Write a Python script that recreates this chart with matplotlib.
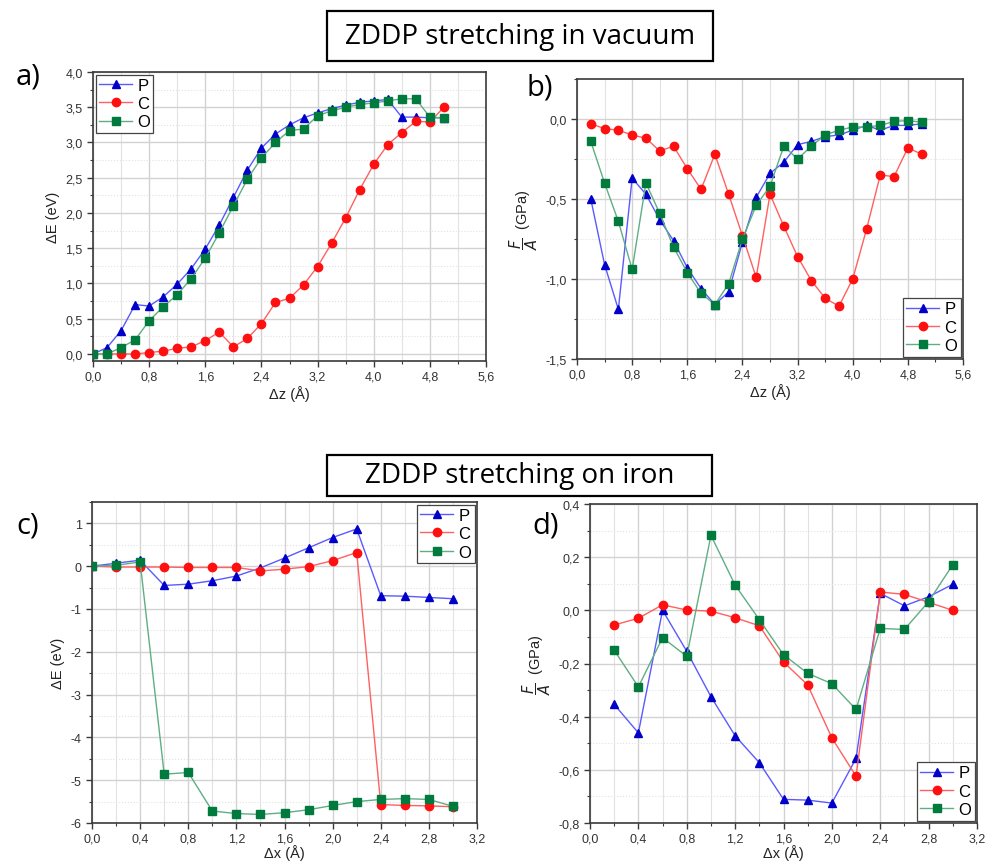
import matplotlib
matplotlib.use('Agg')
import matplotlib.pyplot as plt
from matplotlib.ticker import MultipleLocator, FuncFormatter
from matplotlib.patches import Rectangle

plt.rcParams['font.family'] = ['Liberation Sans', 'DejaVu Sans']
plt.rcParams['axes.unicode_minus'] = False

# ---------------------------------------------------------------------------
# ZDDP stretching in vacuum: energy and force vs. displacement (dz, Angstrom)
# ---------------------------------------------------------------------------
vac_dz = [0.0, 0.2, 0.4, 0.6, 0.8, 1.0, 1.2, 1.4, 1.6, 1.8, 2.0, 2.2, 2.4,
          2.6, 2.8, 3.0, 3.2, 3.4, 3.6, 3.8, 4.0, 4.2, 4.4, 4.6, 4.8, 5.0]
vac_E_P = [0.00, 0.09, 0.33, 0.70, 0.68, 0.81, 0.99, 1.21, 1.49, 1.83, 2.22, 2.61, 2.92,
           3.12, 3.25, 3.35, 3.42, 3.48, 3.53, 3.57, 3.59, 3.61, 3.36, 3.36, 3.35, 3.35]
vac_E_C = [0.00, 0.00, 0.00, 0.00, 0.02, 0.04, 0.08, 0.10, 0.19, 0.31, 0.10, 0.22, 0.43,
           0.73, 0.79, 0.98, 1.24, 1.57, 1.93, 2.33, 2.69, 2.97, 3.14, 3.30, 3.29, 3.50]
vac_E_O = [0.00, 0.00, 0.09, 0.20, 0.47, 0.67, 0.84, 1.07, 1.36, 1.72, 2.10, 2.48, 2.78,
           3.00, 3.17, 3.19, 3.38, 3.45, 3.50, 3.54, 3.56, 3.59, 3.62, 3.62, 3.36, 3.35]

vac_dz_F = vac_dz[1:]
vac_F_P = [-0.50, -0.91, -1.19, -0.37, -0.47, -0.63, -0.76, -0.93, -1.06, -1.16, -1.08, -0.77,
           -0.49, -0.34, -0.27, -0.16, -0.14, -0.11, -0.10, -0.07, -0.04, -0.07, -0.04, -0.04, -0.03]
vac_F_C = [-0.03, -0.06, -0.07, -0.10, -0.12, -0.20, -0.17, -0.31, -0.44, -0.22, -0.47, -0.73,
           -0.99, -0.47, -0.67, -0.86, -1.01, -1.12, -1.17, -1.00, -0.69, -0.35, -0.36, -0.18, -0.22]
vac_F_O = [-0.14, -0.40, -0.64, -0.94, -0.40, -0.59, -0.80, -0.96, -1.09, -1.16, -1.03, -0.75,
           -0.54, -0.42, -0.17, -0.25, -0.17, -0.10, -0.07, -0.05, -0.05, -0.04, -0.015, -0.01, -0.02]

# ---------------------------------------------------------------------------
# ZDDP stretching on iron: energy and force vs. displacement (dx, Angstrom)
# ---------------------------------------------------------------------------
fe_dx = [0.0, 0.2, 0.4, 0.6, 0.8, 1.0, 1.2, 1.4, 1.6, 1.8, 2.0, 2.2, 2.4, 2.6, 2.8, 3.0]
fe_E_P = [0.00, 0.07, 0.14, -0.45, -0.42, -0.34, -0.23, -0.04, 0.19, 0.43, 0.67, 0.87,
          -0.69, -0.70, -0.73, -0.76]
fe_E_C = [0.00, -0.02, -0.02, -0.02, -0.03, -0.03, -0.03, -0.11, -0.07, -0.01, 0.13, 0.32,
          -5.57, -5.59, -5.60, -5.62]
fe_E_O = [0.00, 0.02, 0.10, -4.86, -4.82, -5.72, -5.78, -5.80, -5.76, -5.69, -5.59, -5.50,
          -5.45, -5.43, -5.45, -5.61]

fe_dx_F = fe_dx[1:]
fe_F_P = [-0.354, -0.461, 0.000, -0.154, -0.325, -0.472, -0.573, -0.711, -0.714, -0.725,
          -0.557, 0.064, 0.017, 0.051, 0.098]
fe_F_C = [-0.055, -0.030, 0.021, 0.001, -0.003, -0.028, -0.058, -0.194, -0.281, -0.480,
          -0.624, 0.069, 0.060, 0.030, 0.000]
fe_F_O = [-0.150, -0.288, -0.103, -0.173, 0.282, 0.095, -0.035, -0.167, -0.237, -0.276,
          -0.373, -0.068, -0.072, 0.033, 0.172]

# marker colour, line colour, marker
SERIES = {
    'P': ('#0000c8', '#5a5aff', '^'),
    'C': ('#ff1010', '#ff6060', 'o'),
    'O': ('#007a3d', '#5fae84', 's'),
}

W, H = 985, 862
fig = plt.figure(figsize=(W / 100, H / 100), dpi=100)


def px_rect(l, t, r, b):
    return [l / W, 1 - b / H, (r - l) / W, (b - t) / H]


def comma_fmt(decimals):
    def f(v, _):
        s = f'{v:.{decimals}f}'
        if s.startswith('-') and float(s) == 0:
            s = s[1:]
        return s.replace('.', ',')
    return FuncFormatter(f)


def draw(ax, x, ys, legend_loc):
    for name, y in zip(['P', 'C', 'O'], ys):
        mc, lc, m = SERIES[name]
        ax.plot(x, y, color=lc, lw=1.0, marker=m, ms=6, mfc=mc, mec=mc,
                label=name, zorder=3)
    leg = ax.legend(loc=legend_loc, fontsize=12, frameon=True, fancybox=False,
                    edgecolor='#444444', framealpha=1, borderaxespad=0.15,
                    borderpad=0.2, handlelength=2.0, handletextpad=0.3,
                    labelspacing=0.2)
    leg.get_frame().set_linewidth(0.9)


def style(ax, xlim, ylim, xmaj, xmin, ymaj, ymin, xdec, ydec, xlabel, ylabel,
          xlabelpad=2):
    ax.set_xlim(*xlim)
    ax.set_ylim(*ylim)
    ax.xaxis.set_major_locator(MultipleLocator(xmaj))
    ax.xaxis.set_minor_locator(MultipleLocator(xmin))
    ax.yaxis.set_major_locator(MultipleLocator(ymaj))
    ax.yaxis.set_minor_locator(MultipleLocator(ymin))
    ax.xaxis.set_major_formatter(comma_fmt(xdec))
    ax.yaxis.set_major_formatter(comma_fmt(ydec))
    ax.grid(True, which='major', color='#d2d2d2', lw=1.0, zorder=0)
    ax.grid(True, which='minor', axis='x', color='#e2e2e2', lw=0.8, zorder=0)
    ax.grid(True, which='minor', axis='y', color='#e2e2e2', lw=0.8, ls=':', zorder=0)
    ax.set_axisbelow(True)
    for sp in ax.spines.values():
        sp.set_color('#3a3a3a')
        sp.set_linewidth(1.2)
    ax.tick_params(which='major', direction='out', length=4, width=1.0,
                   color='#3a3a3a', labelsize=9, labelcolor='#333333')
    ax.tick_params(axis='x', which='major', pad=2.5)
    ax.tick_params(which='minor', direction='out', length=2.5, width=0.8,
                   color='#3a3a3a')
    ax.set_xlabel(xlabel, fontsize=10.5, color='#222222', labelpad=xlabelpad)
    ax.set_ylabel(ylabel, fontsize=10.5, color='#222222', labelpad=4)


FA_LABEL = r'$\dfrac{F}{A}$  (GPa)'

ax_a = fig.add_axes(px_rect(93, 73, 486, 362))
draw(ax_a, vac_dz, [vac_E_P, vac_E_C, vac_E_O], 'upper left')
style(ax_a, (0, 5.6), (-0.1, 4.0), 0.8, 0.4, 0.5, 0.25, 1, 1,
      'Δz (Å)', 'ΔE (eV)')

ax_b = fig.add_axes(px_rect(577, 80, 963, 360))
draw(ax_b, vac_dz_F, [vac_F_P, vac_F_C, vac_F_O], 'lower right')
style(ax_b, (0, 5.6), (-1.5, 0.25), 0.8, 0.4, 0.5, 0.25, 1, 1,
      'Δz (Å)', FA_LABEL)

ax_c = fig.add_axes(px_rect(92, 503, 477, 824))
draw(ax_c, fe_dx, [fe_E_P, fe_E_C, fe_E_O], 'upper right')
style(ax_c, (0, 3.2), (-6, 1.5), 0.4, 0.2, 1, 0.5, 1, 0,
      'Δx (Å)', 'ΔE (eV)', xlabelpad=0)

ax_d = fig.add_axes(px_rect(590, 505, 977, 824))
draw(ax_d, fe_dx_F, [fe_F_P, fe_F_C, fe_F_O], 'lower right')
style(ax_d, (0, 3.2), (-0.8, 0.4), 0.4, 0.2, 0.2, 0.1, 1, 1,
      'Δx (Å)', FA_LABEL, xlabelpad=0)

# panel letters
for lbl, (x, y) in {'a)': (28, 77), 'b)': (540, 88), 'c)': (28, 526),
                    'd)': (546, 526)}.items():
    fig.text(x / W, 1 - y / H, lbl, fontsize=21, family=['Open Sans', 'DejaVu Sans'],
             ha='center', va='center')

# boxed section titles
for text, (l, t, r, b) in [('ZDDP stretching in vacuum', (327, 12, 713, 62)),
                           ('ZDDP stretching on iron', (327, 456, 712, 497))]:
    fig.patches.append(Rectangle((l / W, 1 - b / H), (r - l) / W, (b - t) / H,
                                 transform=fig.transFigure, fill=True, fc='white',
                                 ec='black', lw=1.6))
    fig.text((l + r) / 2 / W, 1 - (t + b) / 2 / H, text, fontsize=20,
             family=['Open Sans', 'DejaVu Sans'], ha='center', va='center')

fig.savefig('out.png', dpi=100)
